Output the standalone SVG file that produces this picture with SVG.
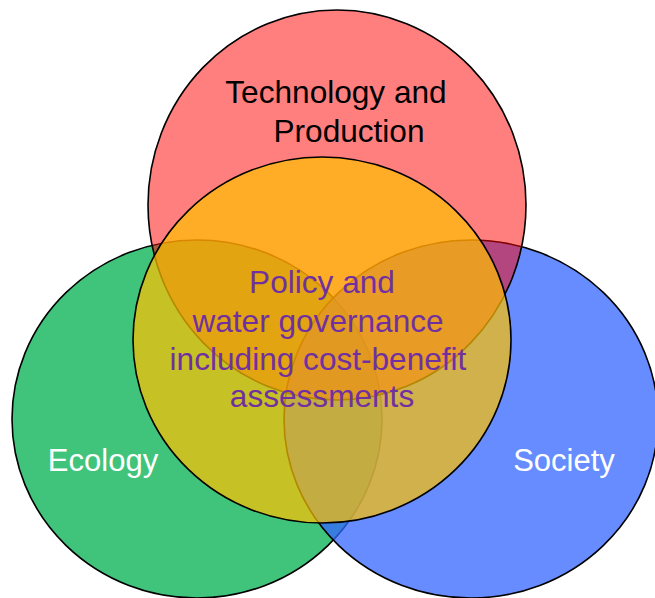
<svg xmlns="http://www.w3.org/2000/svg" width="655" height="598" viewBox="0 0 655 598">
  <style>
    .set { stroke: #000000; stroke-width: 1.6; }
    .lbl { font-family: "Liberation Sans", Arial, sans-serif; font-size: 31px; text-anchor: middle; }
    .big { font-size: 31.6px; }
  </style>
  <rect width="655" height="598" fill="#FFFFFF"/>
  <g id="ecology">
    <ellipse class="set" cx="197" cy="419" rx="185" ry="179" fill="#00B050" fill-opacity="0.75"/>
  </g>
  <g id="society">
    <ellipse class="set" cx="471" cy="419" rx="187" ry="179" fill="#3366FF" fill-opacity="0.75"/>
  </g>
  <g id="technology">
    <ellipse class="set" cx="337" cy="205" rx="189" ry="195" fill="#FF0000" fill-opacity="0.5"/>
  </g>
  <g id="policy">
    <ellipse class="set" cx="322" cy="340" rx="189" ry="183" fill="#FFC000" fill-opacity="0.7"/>
  </g>
  <g id="connectors"/>
  <g id="labels">
    <text class="lbl big" fill="#000000"><tspan x="336" y="103">Technology and</tspan><tspan x="349" y="142">Production</tspan></text>
    <text class="lbl big" fill="#7030A0"><tspan x="322" y="293">Policy and</tspan><tspan x="318" y="332">water governance</tspan><tspan x="318" y="370">including cost-benefit</tspan><tspan x="322" y="407">assessments</tspan></text>
    <text class="lbl" fill="#FFFFFF" x="103" y="471">Ecology</text>
    <text class="lbl" fill="#FFFFFF" x="564" y="471">Society</text>
  </g>
</svg>
